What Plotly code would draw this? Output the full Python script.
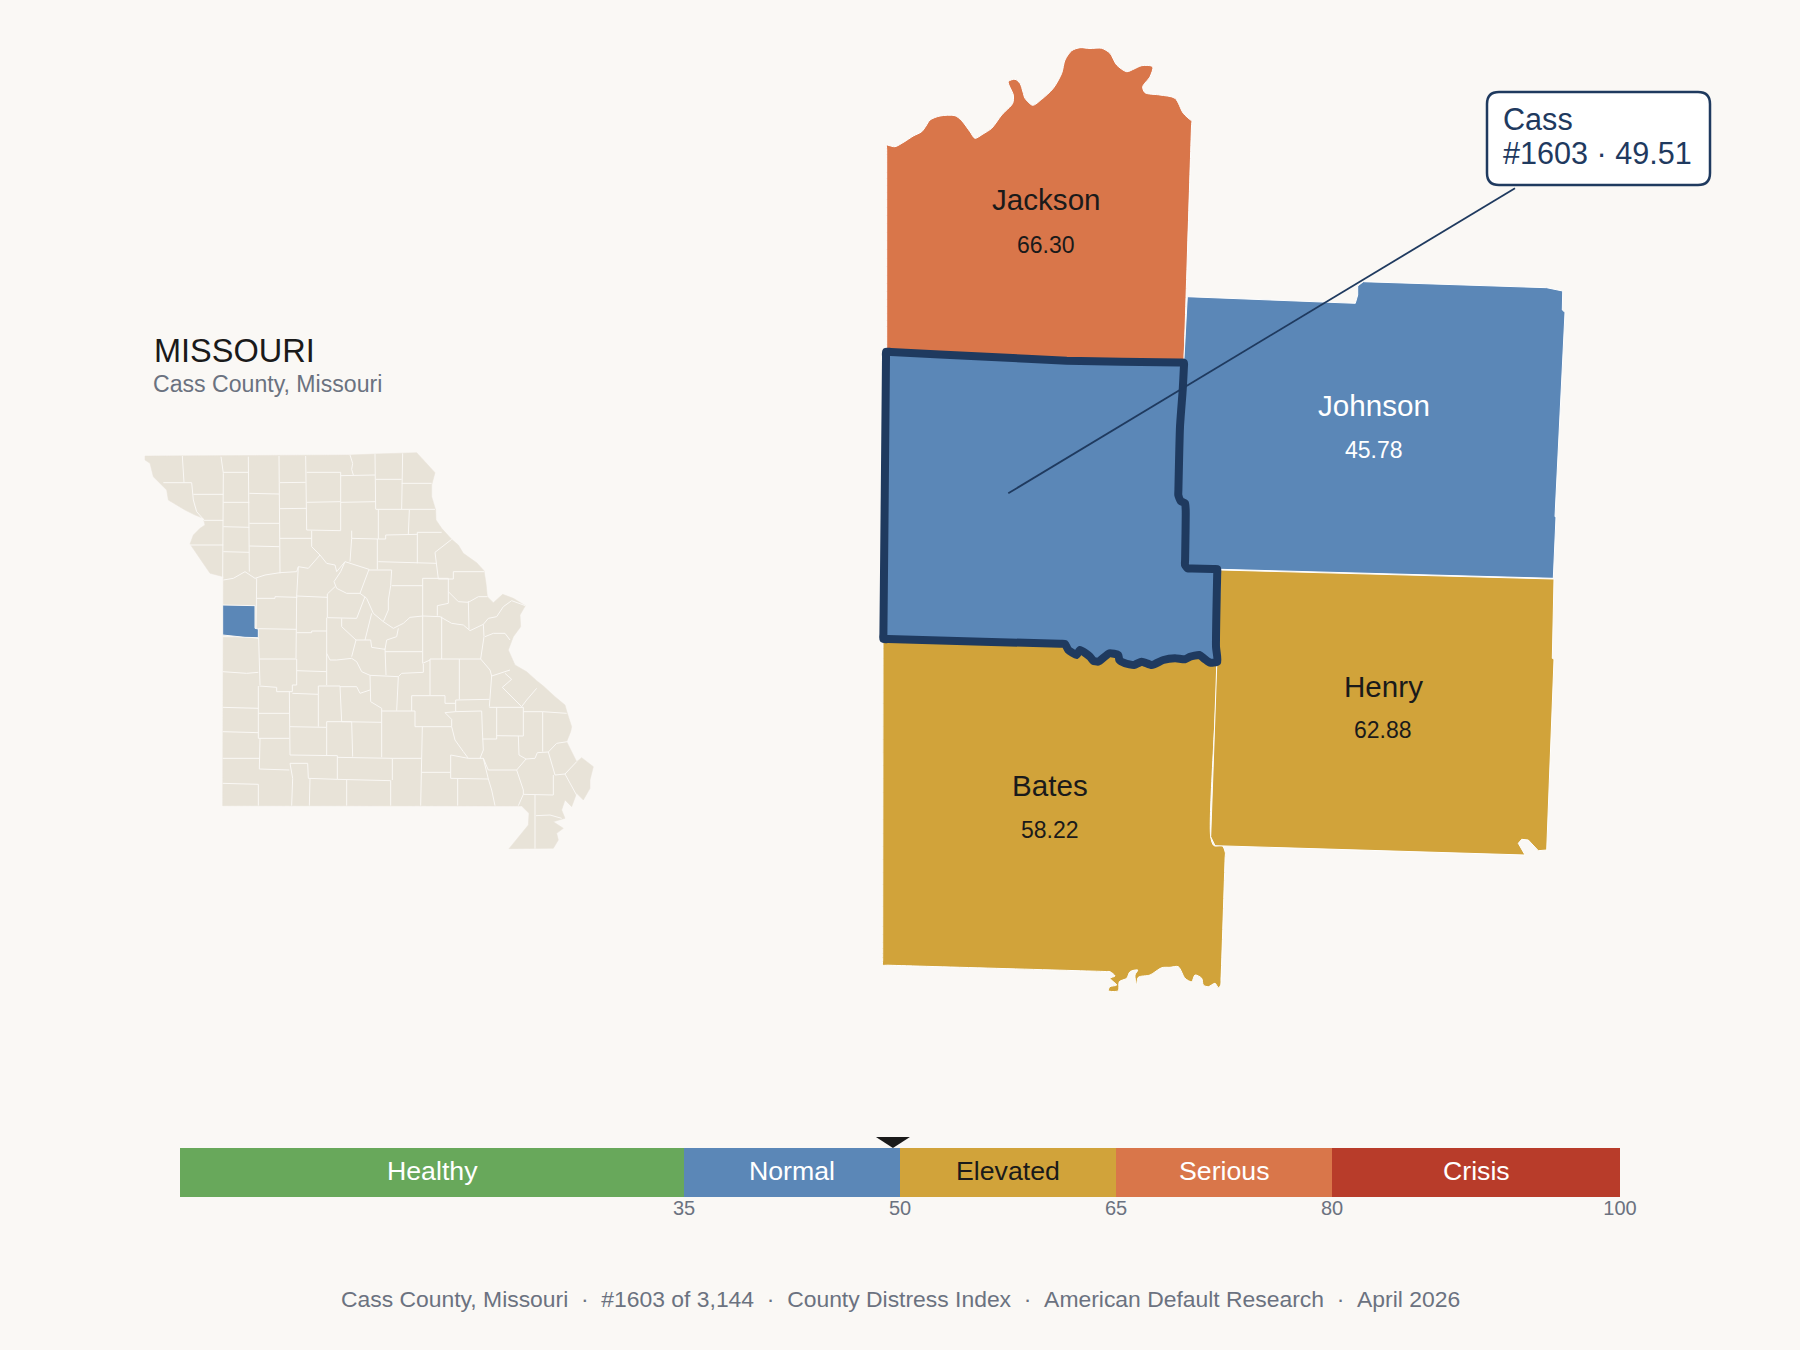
import plotly.graph_objects as go

# county scores
county_names = ["Jackson", "Johnson", "Bates", "Henry"]
county_scores = [66.30, 45.78, 58.22, 62.88]
cass_name = "Cass"
cass_rank = 1603
cass_score = 49.51

# distress bands
band_names = ["Healthy", "Normal", "Elevated", "Serious", "Crisis"]
band_breaks = [0, 35, 50, 65, 80, 100]
tick_values = [35, 50, 65, 80, 100]

# outlines of the county close-up, page pixels
jackson = [(886.7, 150), (886.7, 145), (889, 145.5), (895, 146.7), (904, 142), (913.3, 136), (921.7, 131.7), (926, 126), (930, 120), (940, 116),
           (955, 115.7), (961.7, 120.7), (970, 131.7), (975, 138.3), (983, 134), (991.7, 128.3), (1001.7, 115),
           (1012.7, 103.3), (1013.3, 95), (1008.3, 81.7), (1015, 79.3), (1020, 83.3), (1023, 92), (1025, 98.3),
           (1032.7, 105.3), (1041.7, 99.3), (1053.3, 88.3), (1061.7, 73.3), (1065, 60), (1071.7, 50.7), (1080, 47.7),
           (1090, 48.5), (1101.7, 48.3), (1110, 53.3), (1116.7, 65), (1126.7, 71.7), (1134, 69), (1141.7, 65.7),
           (1152.7, 66.7), (1150, 76.7), (1142.7, 86.7), (1145, 92.7), (1160, 95), (1175, 98.3), (1183.3, 113.3),
           (1190.5, 120), (1191.7, 120.7), (1191.5, 126), (1184.2, 355), (1184, 361), (1178, 361), (892, 354), (886.7, 354), (886.7, 349)]
johnson = [(1187.3, 296.7), (1355.3, 303.3), (1357.7, 295), (1357.7, 286), (1363.3, 281.7), (1546.7, 287.7),
           (1562.7, 291), (1562.3, 310), (1565, 312.3), (1555, 516.7), (1556, 516.7), (1553.3, 578.3), (1220, 569.3),
           (1187, 568), (1185, 505), (1178, 495), (1184, 358.3)]
bates = [(883, 632), (1080, 640), (1214, 650), (1216.7, 666.7), (1210.7, 836.7), (1214, 845.7), (1222.3, 845.7),
         (1225.3, 852.7), (1225.1, 858), (1221, 980), (1220.7, 985), (1218.3, 987.7), (1215, 983.3), (1208.3, 986.7), (1203.3, 985),
         (1201.7, 978.3), (1195, 975), (1191.7, 981.7), (1185, 978.3), (1178.3, 966.7), (1170, 967.3), (1161.7, 967.7),
         (1150, 975), (1138.3, 977.3), (1136.7, 985), (1135, 975), (1137.7, 970), (1130, 971.7), (1126.7, 978.3),
         (1119.3, 981.7), (1118.3, 990.7), (1108.3, 990.7), (1110, 986.7), (1116.7, 985), (1110, 978.3), (1115, 976),
         (1110, 971.7), (1105, 971.5), (888, 965.2), (882.7, 965), (882.7, 960), (883, 645)]
henry = [(1220.7, 570), (1554, 579), (1552.3, 658.3), (1554, 659.3), (1546.7, 850), (1538.3, 850.7), (1528.3, 840),
         (1521.7, 839.3), (1518.3, 843.3), (1525, 855), (1215, 845.7), (1210.7, 836.7), (1216.7, 666.7)]
cass = [(886, 357), (886, 351.7), (891, 352), (986.7, 356.7), (1066.7, 360.7), (1179, 362.6), (1184, 362.7), (1183.9, 367), (1182.7, 390), (1180, 426.7), (1178.4, 490), (1178.3, 495),
        (1180.7, 501), (1185, 503.3), (1185.7, 510), (1185.1, 560), (1185, 565), (1187.7, 568.3), (1192, 568.5), (1213, 569), (1217.3, 569), (1217.2, 574), (1216, 646.7),
        (1217.3, 661.7), (1210, 662.7), (1205, 659.3), (1199.3, 655), (1190, 656.7), (1185, 659.3), (1175, 658.3),
        (1163.3, 660), (1151.7, 665), (1141.7, 661.7), (1134, 665), (1125, 663.3), (1119.3, 660), (1118.3, 655),
        (1109.3, 653.3), (1098.3, 661.7), (1093.3, 660.7), (1090, 656.7), (1080, 650), (1076.7, 655), (1068.3, 650),
        (1065, 644), (1060, 643.8), (888, 639.1), (883.3, 639), (883.4, 634)]
leader = [(1008.3, 493.3), (1515, 188.3)]

# state inset, map units
state_outline = [(45, 48), (660, 45), (735, 42), (860, 38), (885, 65), (915, 98), (905, 135), (905, 170), (917, 210),
                 (918, 240), (935, 265), (965, 298), (985, 315), (1000, 340), (1040, 368), (1062, 392), (1068, 430),
                 (1072, 470), (1090, 488), (1118, 463), (1150, 475), (1186, 497), (1170, 525), (1172, 560), (1150, 590),
                 (1135, 630), (1155, 675), (1190, 695), (1220, 722), (1240, 738), (1275, 770), (1305, 795), (1312, 820),
                 (1325, 860), (1322, 875), (1310, 905), (1340, 965), (1355, 953), (1390, 980), (1380, 1020), (1380, 1045),
                 (1360, 1080), (1340, 1060), (1325, 1100), (1305, 1080), (1295, 1110), (1305, 1135), (1270, 1145),
                 (1300, 1165), (1280, 1180), (1285, 1200), (1270, 1225), (1137, 1226), (1165, 1190), (1195, 1155),
                 (1197, 1120), (1175, 1098), (278, 1097), (278, 420), (280, 410), (240, 400), (220, 370), (180, 312),
                 (190, 285), (210, 265), (225, 255), (220, 235), (195, 225), (165, 210), (115, 180), (110, 150),
                 (70, 110), (60, 70), (45, 60)]
cass_inset = [(278, 495), (375, 497), (375, 565), (385, 567), (385, 593), (345, 592), (278, 585)]
county_lines = [
    [(157, 48), (162, 128)], [(273, 50), (280, 100), (278, 415)], [(355, 50), (358, 395)], [(447, 48), (450, 400)],
    [(527, 48), (530, 270)], [(660, 45), (668, 70), (665, 88), (670, 105)], [(735, 42), (737, 207)],
    [(818, 40), (815, 207)], [(100, 128), (185, 128), (190, 180), (200, 215), (222, 240)], [(190, 163), (280, 163)],
    [(222, 241), (280, 241)], [(180, 315), (280, 315)], [(280, 335), (358, 337)], [(358, 318), (448, 320)],
    [(280, 97), (355, 97)], [(280, 187), (358, 187)], [(280, 260), (358, 262)], [(358, 160), (447, 162)],
    [(358, 250), (447, 250)], [(450, 128), (527, 127)], [(450, 206), (530, 205)], [(450, 295), (545, 295)],
    [(530, 97), (632, 97), (632, 272), (545, 272), (530, 270)], [(530, 187), (632, 185)], [(632, 107), (735, 105)],
    [(632, 187), (737, 185)], [(737, 118), (815, 118)], [(815, 130), (905, 130)], [(737, 208), (915, 208)],
    [(745, 208), (745, 297), (665, 295)], [(665, 272), (665, 295), (660, 365)], [(838, 210), (835, 282)],
    [(745, 297), (767, 297), (767, 285), (862, 283)], [(862, 277), (935, 277)], [(862, 277), (862, 370)],
    [(745, 365), (920, 370)], [(742, 297), (742, 388)], [(965, 298), (915, 337), (925, 417)],
    [(280, 420), (310, 415), (345, 395), (375, 415), (405, 405), (450, 398), (500, 395), (505, 380), (535, 385),
     (570, 345), (545, 320), (545, 272)],
    [(570, 345), (590, 370), (615, 375), (620, 395), (645, 365)],
    [(645, 365), (717, 388), (690, 460), (650, 460), (620, 445), (612, 425), (632, 395), (645, 365)],
    [(717, 390), (785, 390), (782, 437), (775, 480), (775, 510), (760, 545)],
    [(690, 460), (710, 475), (730, 520), (760, 545)], [(785, 437), (878, 437)],
    [(878, 415), (955, 415), (955, 490), (922, 497), (922, 527)], [(878, 415), (878, 670)],
    [(925, 417), (970, 417), (970, 395), (1062, 395)],
    [(955, 455), (985, 485), (1015, 487), (1045, 470), (1072, 470)], [(1015, 483), (1017, 568)],
    [(760, 545), (790, 565), (820, 550), (840, 532), (878, 528), (905, 530), (930, 530), (965, 550), (1000, 555),
     (1020, 572), (1060, 553), (1075, 535), (1100, 530), (1120, 500), (1145, 482), (1186, 497)],
    [(1060, 553), (1062, 590), (1052, 657)], [(1065, 590), (1090, 580), (1125, 580), (1140, 600)],
    [(935, 530), (935, 657)], [(900, 657), (1052, 657)], [(900, 657), (900, 765)], [(988, 657), (988, 778)],
    [(1052, 657), (1080, 690), (1085, 708), (1140, 690)], [(1085, 708), (1078, 800)],
    [(1125, 700), (1145, 718), (1117, 742), (1175, 800), (1190, 780), (1220, 745)], [(878, 670), (900, 660)],
    [(880, 697), (815, 700), (805, 710), (720, 706)], [(880, 672), (880, 697)], [(765, 635), (877, 635)],
    [(765, 625), (768, 705)], [(678, 600), (722, 600), (725, 622), (765, 628), (770, 600), (800, 590), (805, 565)],
    [(592, 462), (592, 533), (680, 535), (705, 470)], [(592, 462), (615, 440)], [(505, 380), (500, 468), (592, 472)],
    [(380, 415), (378, 590)], [(380, 475), (435, 475), (435, 470), (502, 472)], [(500, 468), (500, 578), (498, 655)],
    [(385, 566), (500, 568)], [(500, 578), (545, 578), (545, 573), (590, 573)], [(590, 533), (590, 735)],
    [(725, 520), (705, 600)], [(635, 535), (635, 560), (678, 600), (665, 650)],
    [(590, 640), (600, 660), (620, 660), (665, 655), (680, 665), (695, 695), (720, 706)],
    [(720, 706), (722, 785), (755, 805)], [(805, 710), (800, 812)], [(755, 813), (855, 813), (855, 860), (965, 860)],
    [(845, 767), (945, 767), (945, 790), (977, 790)], [(845, 767), (845, 813)], [(977, 780), (1078, 778)],
    [(977, 780), (977, 815), (945, 818), (965, 838), (965, 860)],
    [(977, 815), (1055, 813), (1057, 870), (1060, 930), (1050, 955)], [(1057, 897), (1100, 897), (1100, 802)],
    [(1078, 802), (1180, 802), (1180, 888), (1100, 887)], [(1180, 815), (1238, 815)], [(1238, 815), (1238, 935)],
    [(1165, 888), (1167, 945), (1188, 957)], [(1188, 957), (1215, 955), (1222, 938), (1255, 936)],
    [(1238, 815), (1310, 820)], [(1255, 936), (1280, 910), (1312, 905)],
    [(1255, 936), (1275, 1005), (1305, 1002), (1340, 965)], [(1305, 1002), (1345, 1075)],
    [(1270, 1005), (1270, 1065), (1180, 1063)], [(1188, 957), (1160, 990), (1180, 1050), (1180, 1063), (1165, 1097)],
    [(1215, 1065), (1215, 1226)], [(1218, 1127), (1260, 1125), (1295, 1135)],
    [(278, 590), (345, 590), (385, 595)], [(385, 566), (388, 657), (390, 735)], [(278, 695), (350, 700), (385, 697)],
    [(388, 657), (500, 657), (500, 735), (487, 735), (487, 755), (440, 755), (440, 742), (388, 738)],
    [(278, 802), (385, 805)], [(385, 738), (385, 895)], [(385, 820), (478, 820)], [(478, 755), (478, 895), (480, 945)],
    [(590, 695), (500, 692)], [(487, 760), (565, 763), (565, 860)], [(565, 738), (630, 738), (635, 845)],
    [(565, 738), (565, 763)], [(630, 740), (680, 740), (690, 760), (720, 750)], [(635, 845), (755, 847)],
    [(755, 805), (755, 952)], [(590, 845), (665, 845), (668, 950)], [(590, 845), (590, 945)], [(480, 860), (588, 862)],
    [(278, 875), (385, 878)], [(385, 895), (478, 895)], [(278, 955), (390, 955)], [(390, 895), (388, 987)],
    [(278, 1030), (385, 1033)], [(388, 987), (478, 990)], [(480, 945), (622, 947), (622, 1018)],
    [(480, 970), (533, 970), (535, 1015), (622, 1018)], [(480, 970), (488, 1015), (485, 1097)],
    [(540, 1015), (538, 1097)], [(650, 1020), (650, 1097)], [(622, 1018), (782, 1022)], [(782, 1022), (782, 1097)],
    [(622, 952), (787, 955), (787, 1020)], [(787, 955), (875, 955)], [(877, 860), (875, 995), (872, 1097)],
    [(875, 997), (962, 997)], [(962, 945), (962, 1015), (1075, 1017)], [(983, 1017), (983, 1097)],
    [(965, 860), (975, 900), (1000, 935), (1015, 955), (962, 945)],
    [(1015, 955), (1060, 955), (1075, 1017), (1085, 1050), (1095, 1097)], [(1075, 990), (1160, 990)],
    [(1060, 955), (1075, 990)], [(385, 1033), (385, 1097)],
]

BG = "#faf8f5"
INK = "#1a1a1a"
NAVY = "#1f3a5f"
GREY = "#6b7280"
LAND = "#e8e3d8"
FONT = "Liberation Sans"
band_colors = ["#68a85b", "#5b87b7", "#d1a33a", "#d9764a", "#b83c2a"]
band_text = ["white", "white", INK, "white", "white"]
county_colors = ["#d9764a", "#5b87b7", "#d1a33a", "#d1a33a"]
county_text = [INK, "white", INK, INK]
label_pos = [(1046, 199, 244.5), (1374, 405, 450), (1049.5, 785, 830), (1383, 686, 730)]


def xs(points, close=True):
    vals = [p[0] for p in points]
    return vals + vals[:1] if close else vals


def ys(points, close=True):
    vals = [p[1] for p in points]
    return vals + vals[:1] if close else vals


def poly(points, fill, line="white", width=1, xaxis="x", yaxis="y", smoothing=None):
    line_style = dict(color=line, width=width)
    if smoothing:
        line_style.update(shape="spline", smoothing=smoothing)
    return go.Scatter(x=xs(points), y=ys(points), mode="lines", fill="toself", fillcolor=fill,
                      line=line_style, hoverinfo="skip", xaxis=xaxis, yaxis=yaxis)


fig = go.Figure()

fig.add_trace(poly(jackson, county_colors[0], smoothing=0.8))
fig.add_trace(poly(johnson, county_colors[1]))
fig.add_trace(poly(bates, county_colors[2], smoothing=0.8))
fig.add_trace(poly(henry, county_colors[3]))
fig.add_trace(poly(cass, "#5b87b7", line=NAVY, width=8, smoothing=0.5))
fig.add_trace(go.Scatter(x=xs(leader, False), y=ys(leader, False), mode="lines",
                         line=dict(color=NAVY, width=1.8), hoverinfo="skip"))

# state inset
fig.add_trace(poly(state_outline, LAND, line=LAND, width=0.5, xaxis="x3", yaxis="y3"))
line_x, line_y = [], []
for seg in county_lines:
    line_x += xs(seg, False) + [None]
    line_y += ys(seg, False) + [None]
fig.add_trace(go.Scatter(x=line_x, y=line_y, mode="lines", line=dict(color=BG, width=1),
                         hoverinfo="skip", xaxis="x3", yaxis="y3"))
fig.add_trace(poly(cass_inset, "#5b87b7", line=BG, width=1, xaxis="x3", yaxis="y3"))

# scale bar
fig.add_trace(go.Bar(y=[0] * len(band_names), base=band_breaks[:-1],
                     x=[b - a for a, b in zip(band_breaks[:-1], band_breaks[1:])],
                     orientation="h", width=1, marker=dict(color=band_colors, line=dict(width=0)),
                     hoverinfo="skip", xaxis="x2", yaxis="y2"))

annotations = []
for name, score, color, (lx, ly, vy) in zip(county_names, county_scores, county_text, label_pos):
    annotations.append(dict(x=lx, y=ly, text=name, font=dict(size=29.6, color=color)))
    annotations.append(dict(x=lx, y=vy, text=f"{score:.2f}", font=dict(size=23, color=color)))
annotations.append(dict(x=1501, y=119, xanchor="left", text=cass_name, font=dict(size=30.6, color=NAVY)))
annotations.append(dict(x=1501, y=153, xanchor="left", text=f"#{cass_rank} · {cass_score:.2f}",
                        font=dict(size=30.6, color=NAVY)))
annotations.append(dict(x=152, y=351, xanchor="left", text="MISSOURI", font=dict(size=32.5, color=INK)))
annotations.append(dict(x=151, y=384, xanchor="left", text="Cass County, Missouri", font=dict(size=23.1, color=GREY)))
footer = "\u00a0\u00a0·\u00a0\u00a0".join(["Cass County, Missouri", f"#{cass_rank} of 3,144", "County Distress Index",
                                           "American Default Research", "April 2026"])
annotations.append(dict(x=900, y=1299, text=footer, font=dict(size=22.9, color=GREY)))
for a in annotations:
    a.update(xref="x", yref="y", showarrow=False)
    a.setdefault("xanchor", "center")
    a["yanchor"] = "middle"
    a["font"]["family"] = FONT
for name, color, lo, hi in zip(band_names, band_text, band_breaks[:-1], band_breaks[1:]):
    annotations.append(dict(x=(lo + hi) / 2, y=1170.5, xref="x2", yref="y", text=name, showarrow=False,
                            xanchor="center", yanchor="middle", font=dict(family=FONT, size=26.7, color=color)))

# callout box with rounded corners
box = "M 1499 92 L 1698 92 Q 1710 92 1710 104 L 1710 173 Q 1710 185 1698 185 L 1499 185 Q 1487 185 1487 173 L 1487 104 Q 1487 92 1499 92 Z"
# score pointer sits above the bar, so y is tied to the page to avoid clipping at the subplot edge
marker = dict(type="path", xref="x2", yref="paper", xsizemode="pixel", ysizemode="pixel",
              xanchor=cass_score, yanchor=(1350 - 1148) / 1350, path="M -17 11 L 17 11 L 0 0 Z",
              fillcolor=INK, line=dict(width=0), layer="above")

hidden = dict(visible=False, showgrid=False, zeroline=False, automargin=False)
fig.update_layout(
    width=1800, height=1350, autosize=False, margin=dict(l=0, r=0, t=0, b=0, pad=0),
    paper_bgcolor=BG, plot_bgcolor="rgba(0,0,0,0)", showlegend=False, barmode="overlay",
    font=dict(family=FONT),
    xaxis=dict(hidden, range=[0, 1800], domain=[0, 1]),
    yaxis=dict(hidden, range=[1350, 0], domain=[0, 1]),
    xaxis2=dict(range=[0, 100], domain=[180 / 1800, 1620 / 1800], anchor="y2", showgrid=False, zeroline=False,
                automargin=False, showline=False, tickmode="array", tickvals=tick_values, ticks="",
                ticklabelstandoff=-3, tickfont=dict(family=FONT, size=20, color=GREY)),
    yaxis2=dict(hidden, range=[-0.5, 0.5], domain=[(1350 - 1197) / 1350, (1350 - 1148) / 1350], anchor="x2"),
    xaxis3=dict(hidden, range=[0, 1410], domain=[130 / 1800, 600 / 1800], anchor="y3"),
    yaxis3=dict(hidden, range=[1260, 0], domain=[(1350 - 860) / 1350, (1350 - 440) / 1350], anchor="x3"),
    shapes=[dict(type="path", xref="x", yref="y", path=box, fillcolor="white", line=dict(color=NAVY, width=2.5),
                 layer="above"), marker],
    annotations=annotations,
)

fig.write_html("out.html", config=dict(displayModeBar=False, responsive=False),
               post_script="document.documentElement.style.overflow='hidden';document.body.style.margin='0';"
                           "document.body.style.background='#faf8f5';")
